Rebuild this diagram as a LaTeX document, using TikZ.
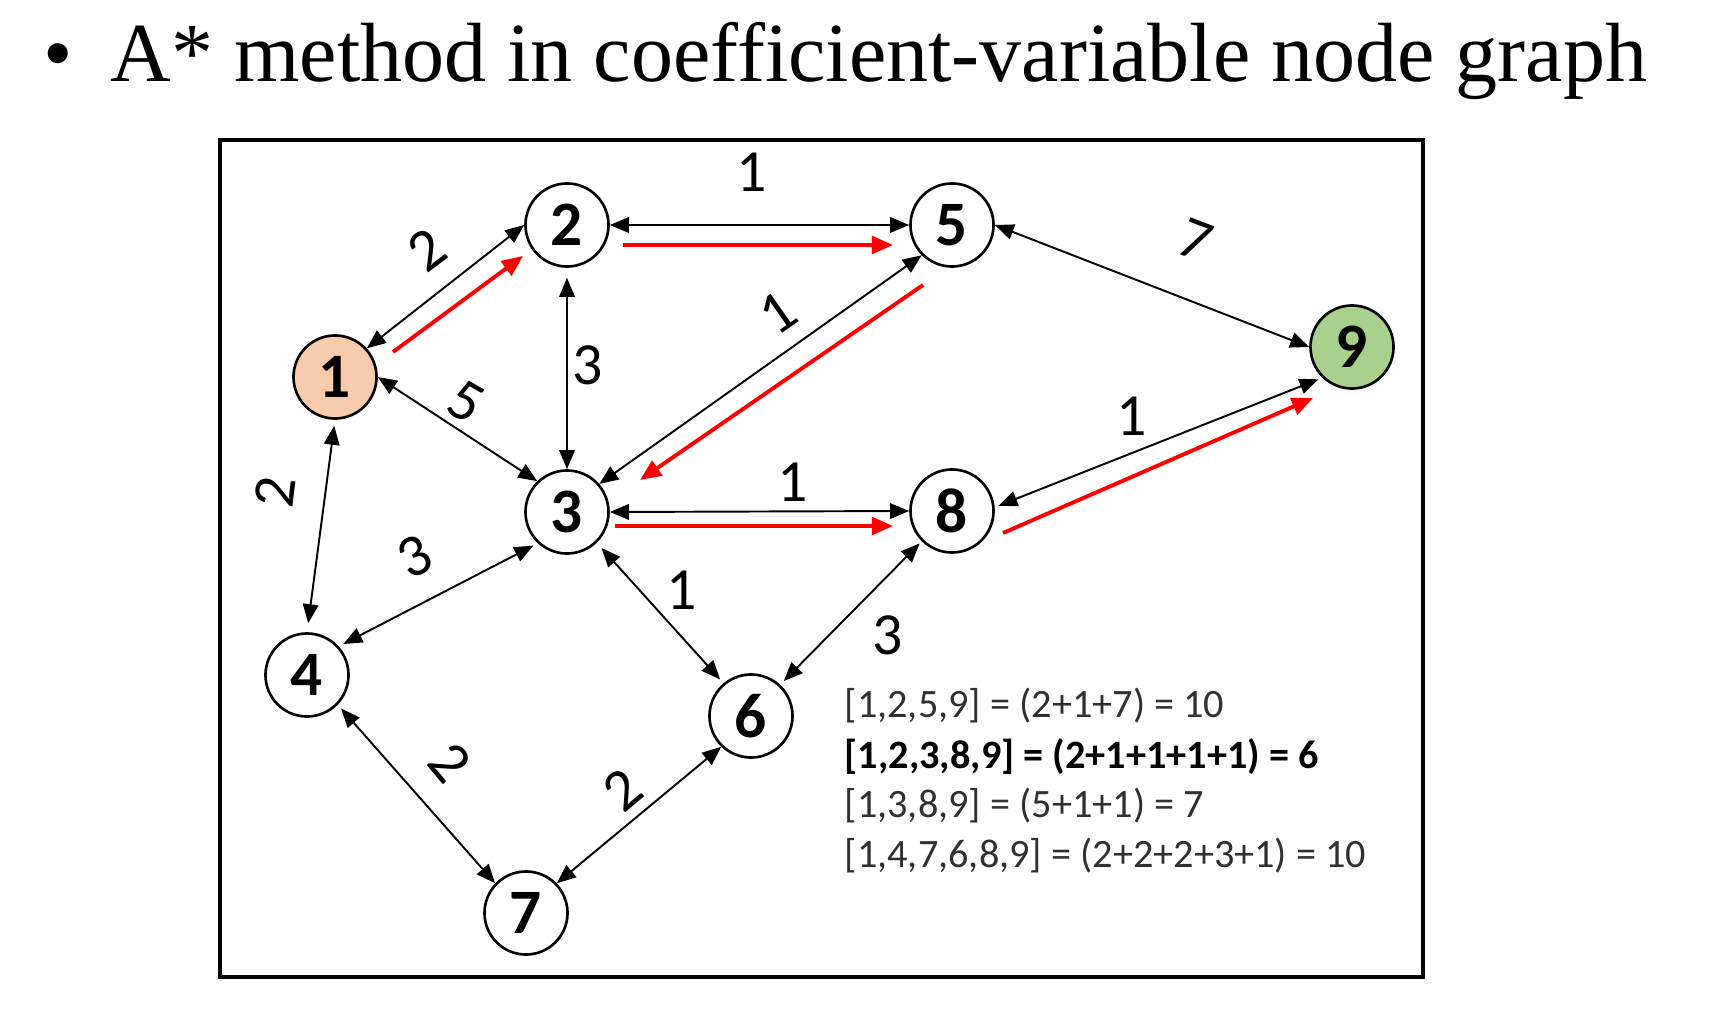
\documentclass[tikz,border=0pt]{standalone}
\usepackage{fontspec}
\setmainfont{Liberation Serif}
\newfontfamily\calfont{Carlito}
\usetikzlibrary{arrows.meta,calc}
\definecolor{startfill}{HTML}{F8CBAD}
\definecolor{goalfill}{HTML}{A9D18E}
\definecolor{pathred}{HTML}{FF0000}
\definecolor{legendgray}{HTML}{303030}
\begin{document}
\begin{tikzpicture}[x=0.01cm,y=-0.01cm,
  vnode/.style={circle,draw=black,line width=0.75pt,minimum size=0.83cm,inner sep=0pt,
    font=\calfont\bfseries\fontsize{18}{20}\selectfont},
  wlabel/.style={font=\calfont\fontsize{17}{20}\selectfont,inner sep=0pt},
  biedge/.style={line width=0.55pt,{Triangle[length=5.4pt,width=4.4pt]}-{Triangle[length=5.4pt,width=4.4pt]}},
  pathedge/.style={draw=pathred,line width=1.1pt,-{Triangle[length=6pt,width=5pt]}},
  legend/.style={font=\calfont\fontsize{11.45}{13}\selectfont,anchor=base west,inner sep=0pt,text=legendgray},
  titlefont/.style={font=\fontsize{23.9}{28}\selectfont,inner sep=0pt}
]
\useasboundingbox (0,0) rectangle (1728,1010);

% title
\node[titlefont,anchor=base] (bullet) at (58,82) {•};
\node[titlefont,anchor=base west] (title) at (110,82) {A* method in coefficient-variable node graph};

% frame
\draw[line width=1pt] (220,140) rectangle (1423,977);

% vertices
\node[vnode,fill=startfill] (n1) at (335,377) {1};
\node[vnode] (n2) at (567,225) {2};
\node[vnode] (n3) at (567,512) {3};
\node[vnode] (n4) at (307,675) {4};
\node[vnode] (n5) at (952,225) {5};
\node[vnode] (n6) at (751,716) {6};
\node[vnode] (n7) at (526,913) {7};
\node[vnode] (n8) at (952,511) {8};
\node[vnode,fill=goalfill] (n9) at (1352,347) {9};

% black bidirectional edges
\draw[biedge] (n1.42) -- (n2.west);
\draw[biedge] (n2.east) -- (n5.west);
\draw[biedge,shorten <=0.1cm] (n2.south) -- (n3.north);
\draw[biedge] (n1.east) -- (n3.134);
\draw[biedge] (n3.41) -- (n5.225);
\draw[biedge] (n5.east) -- (n9.west);
\draw[biedge] (n3.east) -- (n8.west);
\draw[biedge,shorten <=0.04cm,shorten >=0.04cm] (n8.5) -- (n9.226);
\draw[biedge,shorten <=0.06cm,shorten >=0.09cm] (n1.south) -- (n4.north);
\draw[biedge,shorten <=0.05cm,shorten >=0.05cm] (n4.42) -- (n3.227);
\draw[biedge,shorten <=0.07cm,shorten >=0.05cm] (n3.-46) -- (n6.130);
\draw[biedge,shorten <=0.03cm,shorten >=0.05cm] (n8.225) -- (n6.47);
\draw[biedge,shorten <=0.05cm] (n4.-44) -- (n7.136);
\draw[biedge] (n7.44) -- (n6.226);

% red path arrows
\draw[pathedge] ($(n1)+(58,-25)$) -- ($(n2)+(-44,31)$);
\draw[pathedge] ($(n2)+(56,20)$) -- ($(n5)+(-59,20)$);
\draw[pathedge] ($(n5)+(-29,60)$) -- ($(n3)+(73,-32)$);
\draw[pathedge] ($(n3)+(48,14)$) -- ($(n8)+(-59,15)$);
\draw[pathedge] ($(n8)+(51,22)$) -- ($(n9)+(-39,51)$);

% weights
\node[wlabel] (w25) at (752,172) {1};
\node[wlabel,rotate=37] (w12) at (427,250) {2};
\node[wlabel] (w23) at (588,365) {3};
\node[wlabel,rotate=-30] (w13) at (466,402) {5};
\node[wlabel,rotate=35] (w35) at (778,313) {1};
\node[wlabel,rotate=-21] (w59) at (1195,240) {7};
\node[wlabel] (w38) at (793,482) {1};
\node[wlabel] (w89) at (1132,416) {1};
\node[wlabel,rotate=83] (w14) at (275,492) {2};
\node[wlabel,rotate=26] (w43) at (415,557) {3};
\node[wlabel] (w36) at (682,590) {1};
\node[wlabel] (w86) at (888,635) {3};
\node[wlabel,rotate=-50] (w47) at (450,763) {2};
\node[wlabel,rotate=40] (w76) at (623,790) {2};

% legend
\node[legend] (l1) at (844,717) {[1,2,5,9] = (2+1+7) = 10};
\node[legend,text=black] (l2) at (844,768) {\bfseries [1,2,3,8,9] = (2+1+1+1+1) = 6};
\node[legend] (l3) at (844,817) {[1,3,8,9] = (5+1+1) = 7};
\node[legend] (l4) at (844,867) {[1,4,7,6,8,9] = (2+2+2+3+1) = 10};
\end{tikzpicture}
\end{document}
